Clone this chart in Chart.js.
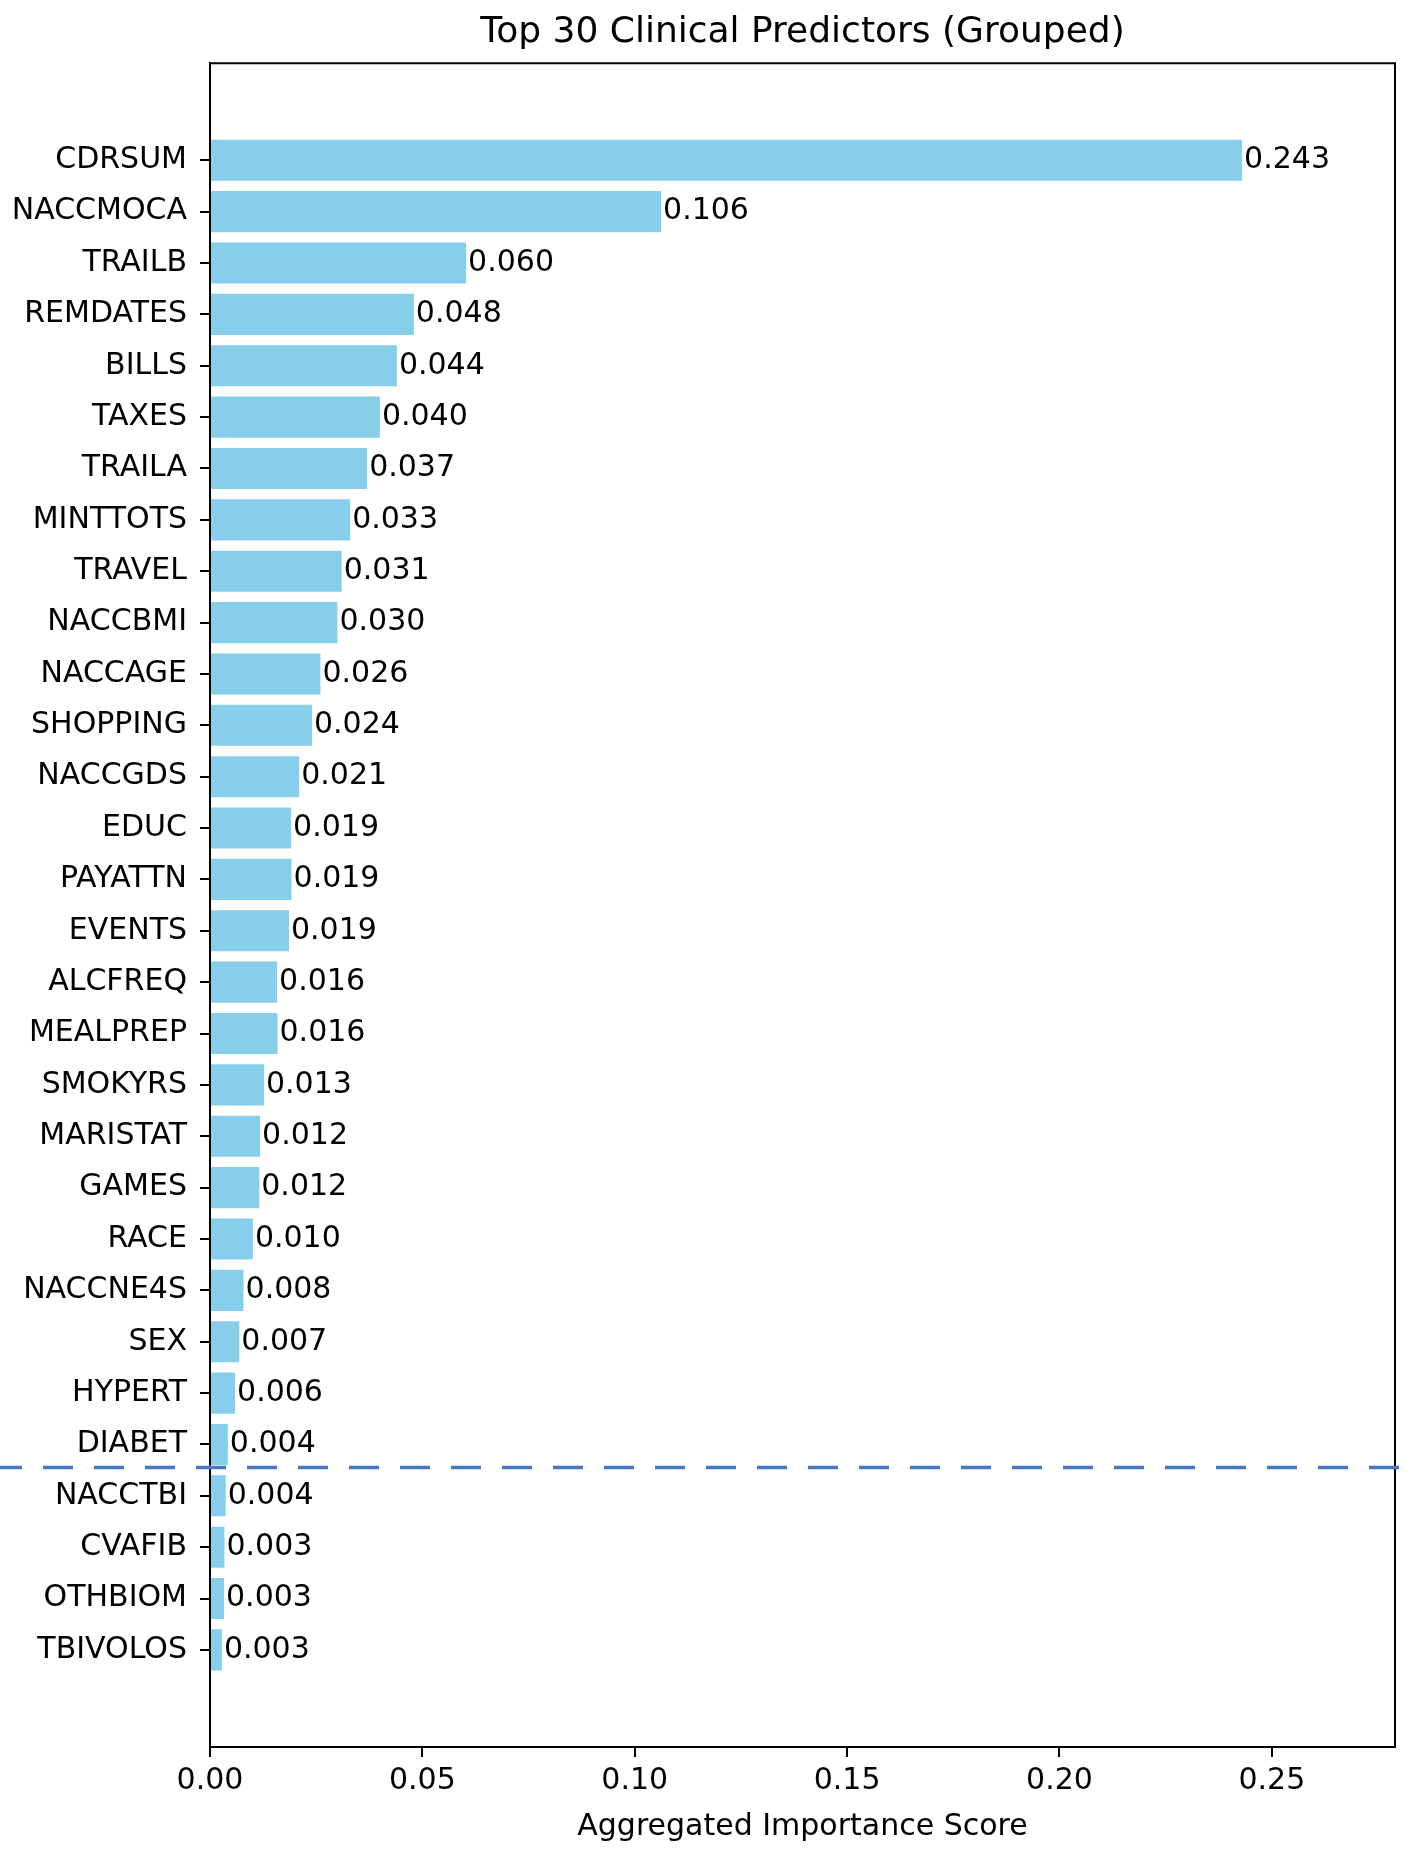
<!DOCTYPE html>
<html>
<head>
<meta charset="utf-8">
<script src="https://cdn.jsdelivr.net/npm/chart.js@4.4.1/dist/chart.umd.min.js"></script>
<style>
  html, body { margin: 0; padding: 0; background: #ffffff; }
  canvas { display: block; }
</style>
</head>
<body>
<canvas id="c" width="1417" height="1851"></canvas>
<script>
// ---- data ----
const categories = [
  "CDRSUM", "NACCMOCA", "TRAILB", "REMDATES", "BILLS", "TAXES", "TRAILA",
  "MINTTOTS", "TRAVEL", "NACCBMI", "NACCAGE", "SHOPPING", "NACCGDS", "EDUC",
  "PAYATTN", "EVENTS", "ALCFREQ", "MEALPREP", "SMOKYRS", "MARISTAT", "GAMES",
  "RACE", "NACCNE4S", "SEX", "HYPERT", "DIABET", "NACCTBI", "CVAFIB",
  "OTHBIOM", "TBIVOLOS"
];
const importance = [
  0.243, 0.1062, 0.0603, 0.048, 0.044, 0.040, 0.037,
  0.033, 0.031, 0.030, 0.026, 0.024, 0.021, 0.0191,
  0.0192, 0.0186, 0.0158, 0.0159, 0.0127, 0.0118, 0.0116,
  0.0101, 0.0079, 0.0069, 0.0059, 0.0042, 0.0037, 0.0034,
  0.0033, 0.0028
];
const xTickValues = [0.00, 0.05, 0.10, 0.15, 0.20, 0.25];
const xMax = 0.279;
const yMin = -1.89, yMax = 30.89;      // category index range incl. margins
const cutoffBetween = 25.45;            // dashed separator between DIABET and NACCTBI

const chartTitle = "Top 30 Clinical Predictors (Grouped)";
const xAxisTitle = "Aggregated Importance Score";

const FONT = "'DejaVu Sans', sans-serif";
const TICK_SIZE = 30;

// ---- plugins ----
const spinesPlugin = {
  id: 'spines',
  afterDraw(chart) {
    const {ctx, chartArea: a} = chart;
    ctx.save();
    ctx.strokeStyle = '#000';
    ctx.lineWidth = 2;
    ctx.beginPath();
    ctx.moveTo(a.left, a.top);
    ctx.lineTo(a.right, a.top);
    ctx.lineTo(a.right, a.bottom);
    ctx.stroke();
    ctx.restore();
  }
};

const valueLabelsPlugin = {
  id: 'valueLabels',
  afterDatasetsDraw(chart) {
    const {ctx} = chart;
    const meta = chart.getDatasetMeta(0);
    ctx.save();
    ctx.font = TICK_SIZE + "px " + FONT;
    ctx.fillStyle = '#000';
    ctx.textAlign = 'left';
    ctx.textBaseline = 'middle';
    meta.data.forEach((bar, i) => {
      ctx.fillText(importance[i].toFixed(3), bar.x + 2, bar.y);
    });
    ctx.restore();
  }
};

const cutoffPlugin = {
  id: 'cutoff',
  afterDraw(chart) {
    const {ctx} = chart;
    const y = chart.scales.y.getPixelForValue(cutoffBetween);
    ctx.save();
    ctx.strokeStyle = '#4677c0';
    ctx.lineWidth = 3.5;
    ctx.setLineDash([30, 21]);
    ctx.lineDashOffset = 8;
    ctx.beginPath();
    ctx.moveTo(0, y);
    ctx.lineTo(chart.width, y);
    ctx.stroke();
    ctx.restore();
  }
};

// ---- chart ----
new Chart(document.getElementById('c'), {
  type: 'bar',
  data: {
    datasets: [{
      data: importance.map((v, i) => ({x: v, y: i})),
      backgroundColor: '#87CEEB',
      borderWidth: 0,
      barPercentage: 0.8,
      categoryPercentage: 1.0
    }]
  },
  options: {
    indexAxis: 'y',
    responsive: false,
    devicePixelRatio: 1,
    animation: false,
    layout: { padding: { left: 0, right: 22, top: 0, bottom: 0 } },
    plugins: {
      legend: { display: false },
      tooltip: { enabled: false },
      title: {
        display: true,
        text: chartTitle,
        fullSize: false,
        color: '#000',
        font: { family: FONT, size: 36, weight: 'normal' },
        padding: { top: 11, bottom: 9 }
      }
    },
    scales: {
      x: {
        type: 'linear',
        min: 0,
        max: xMax,
        offset: false,
        afterBuildTicks: s => { s.ticks = xTickValues.map(v => ({value: v})); },
        afterFit: s => { s.height = 104; },
        ticks: {
          color: '#000',
          font: { family: FONT, size: TICK_SIZE },
          padding: 6,
          callback: v => Number(v).toFixed(2)
        },
        grid: { offset: false, drawOnChartArea: false, drawTicks: true, tickLength: 10, color: '#000', lineWidth: 2 },
        border: { display: true, color: '#000', width: 2 },
        title: {
          display: true,
          text: xAxisTitle,
          color: '#000',
          font: { family: FONT, size: TICK_SIZE },
          padding: { top: 4, bottom: 6 }
        }
      },
      y: {
        type: 'linear',
        min: yMin,
        max: yMax,
        reverse: true,
        offset: false,
        afterBuildTicks: s => { s.ticks = categories.map((_, i) => ({value: i})); },
        afterFit: s => { s.width = 210; },
        ticks: {
          autoSkip: false,
          color: '#000',
          font: { family: FONT, size: TICK_SIZE },
          padding: 13,
          callback: v => categories[v]
        },
        grid: { offset: false, drawOnChartArea: false, drawTicks: true, tickLength: 10, color: '#000', lineWidth: 2 },
        border: { display: true, color: '#000', width: 2 }
      }
    }
  },
  plugins: [spinesPlugin, valueLabelsPlugin, cutoffPlugin]
});
</script>
</body>
</html>
